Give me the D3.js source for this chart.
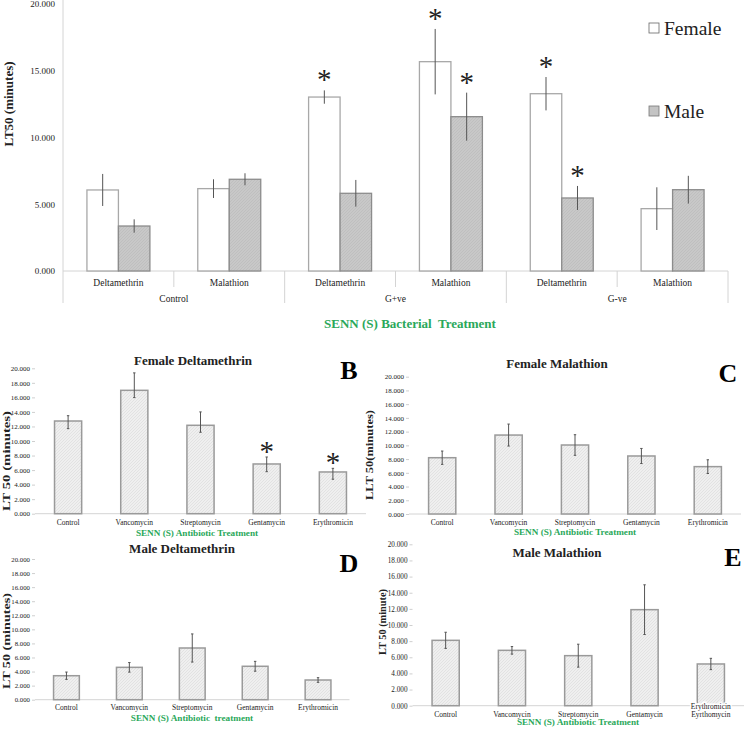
<!DOCTYPE html>
<html><head><meta charset="utf-8">
<script src="https://cdn.jsdelivr.net/npm/d3@7/dist/d3.min.js"></script>
<style>
body{margin:0;background:#fff}
svg{display:block}
text{font-family:"Liberation Serif","Times New Roman",serif;fill:#222}
</style>
</head><body>
<svg id="chart" width="745" height="729"></svg>
<script>
// ---------- DATA ----------
const mainGroups = ["Control", "G+ve", "G-ve"];
const mainInsecticides = ["Deltamethrin", "Malathion"];
const sexes = ["Female", "Male"];
const femaleMain    = [6.07, 6.17, 13.03, 15.68, 13.28, 4.67];
const femaleMainErr = [1.20, 0.70, 0.50, 2.45, 1.25, 1.60];
const maleMain      = [3.37, 6.87, 5.82, 11.56, 5.47, 6.09];
const maleMainErr   = [0.50, 0.45, 1.00, 1.80, 0.90, 1.04];
const femaleMainSig = [0, 0, 1, 1, 1, 0];
const maleMainSig   = [0, 0, 0, 1, 1, 0];
const mainTicks = [0, 5, 10, 15, 20];

const antibiotics = ["Control", "Vancomycin", "Streptomycin", "Gentamycin", "Erythromicin"];
const antibioticsE = ["Control", "Vancomycin", "Streptomycin", "Gentamycin", "Erythromicin|Eyrthomycin"];
const femDeltVals = [12.75, 16.97, 12.16, 6.84, 5.74];
const femDeltUp   = [0.73, 2.40, 1.84, 0.96, 0.50];
const femDeltDn   = [1.05, 1.00, 0.96, 1.06, 1.00];
const femDeltSig  = [0, 0, 0, 1, 1];
const femMalVals  = [8.20, 11.50, 10.05, 8.45, 6.90];
const femMalErr   = [0.97, 1.60, 1.50, 1.10, 1.00];
const maleDeltVals = [3.41, 4.60, 7.35, 4.75, 2.80];
const maleDeltErr  = [0.52, 0.68, 2.00, 0.70, 0.33];
const maleMalVals  = [8.10, 6.86, 6.20, 11.90, 5.17];
const maleMalErr   = [1.00, 0.47, 1.42, 3.08, 0.70];
const panelTicks = [0, 2, 4, 6, 8, 10, 12, 14, 16, 18, 20];

// ---------- SETUP ----------
const svg = d3.select("#chart");
const fmt = d3.format(".3f");
const green = "#2aa85a";
const axisGray = "#d4d4d4";

const defs = svg.append("defs");
const p1 = defs.append("pattern").attr("id","hatchLight").attr("patternUnits","userSpaceOnUse")
  .attr("width",3).attr("height",3);
p1.append("rect").attr("width",3).attr("height",3).attr("fill","#efefef");
p1.append("path").attr("d","M0,3 L3,0").attr("stroke","#dcdcdc").attr("stroke-width",0.7);
const p2 = defs.append("pattern").attr("id","hatchDark").attr("patternUnits","userSpaceOnUse")
  .attr("width",3).attr("height",3);
p2.append("rect").attr("width",3).attr("height",3).attr("fill","#c8c8c8");
p2.append("path").attr("d","M0,3 L3,0").attr("stroke","#bcbcbc").attr("stroke-width",0.7);

// ---------- MAIN PANEL (A) ----------
(function(){
  const L = 63, R = 728, T = 4, B = 271;
  const cats = [];
  mainGroups.forEach(g => mainInsecticides.forEach(ins => cats.push(g + "|" + ins)));
  const x0 = d3.scaleBand().domain(cats).range([L, R]).paddingInner(0).paddingOuter(0);
  const x1 = d3.scaleBand().domain(sexes).range([0, x0.step()]).paddingInner(0).paddingOuter(0.76);
  const y = d3.scaleLinear().domain([0, 20]).range([B, T]);
  const g = svg.append("g");

  // y axis
  const ya = g.append("g").attr("transform", `translate(${L},0)`)
    .call(d3.axisLeft(y).tickValues(mainTicks).tickFormat(fmt).tickSize(0).tickPadding(8));
  ya.select(".domain").remove();
  ya.selectAll("text").style("font-family","'Liberation Serif',serif").style("font-size","9px").attr("fill","#333");
  g.append("line").attr("x1",L).attr("x2",L).attr("y1",0).attr("y2",303).attr("stroke",axisGray);
  g.append("line").attr("x1",L).attr("x2",R).attr("y1",B).attr("y2",B).attr("stroke",axisGray);

  // category separators and labels
  cats.forEach((c, i) => {
    const xs = x0(c);
    if (i > 0) {
      const isGroupEdge = i % 2 === 0;
      g.append("line").attr("x1",xs).attr("x2",xs).attr("y1",B).attr("y2", isGroupEdge ? 303 : 287)
        .attr("stroke",axisGray);
    }
    g.append("text").attr("x", xs + x0.bandwidth()/2).attr("y", 285.5).attr("text-anchor","middle")
      .style("font-size","9.5px").text(c.split("|")[1]);
  });
  g.append("line").attr("x1",R).attr("x2",R).attr("y1",B).attr("y2",303).attr("stroke",axisGray);
  mainGroups.forEach(gr => {
    const a = x0(gr + "|" + mainInsecticides[0]);
    const b = x0(gr + "|" + mainInsecticides[1]) + x0.bandwidth();
    g.append("text").attr("x",(a+b)/2).attr("y",301.5).attr("text-anchor","middle")
      .style("font-size","9.5px").text(gr);
  });

  // bars
  const series = [
    {sex:"Female", vals:femaleMain, err:femaleMainErr, sig:femaleMainSig, fill:"#ffffff", stroke:"#a8a8a8"},
    {sex:"Male", vals:maleMain, err:maleMainErr, sig:maleMainSig, fill:"url(#hatchDark)", stroke:"#8c8c8c"}
  ];
  series.forEach(s => {
    cats.forEach((c, i) => {
      const bx = x0(c) + x1(s.sex), bw = x1.bandwidth();
      const v = s.vals[i];
      g.append("rect").attr("x",bx).attr("y",y(v)).attr("width",bw).attr("height",y(0)-y(v))
        .attr("fill",s.fill).attr("stroke",s.stroke).attr("stroke-width",1.3);
      const cx = bx + bw/2;
      g.append("line").attr("x1",cx).attr("x2",cx).attr("y1",y(v + s.err[i])).attr("y2",y(v - s.err[i]))
        .attr("stroke","#555").attr("stroke-width",1);
      if (s.sig[i]) {
        g.append("text").attr("x",cx).attr("y",y(v + s.err[i]) - 15 + 14).attr("text-anchor","middle")
          .style("font-size","29px").text("*");
      }
    });
  });

  // y label
  g.append("text").attr("transform","translate(13,104) rotate(-90)").attr("text-anchor","middle")
    .style("font-size","13px").style("font-weight","bold").text("LT50 (minutes)");
  // x title
  g.append("text").attr("x",410).attr("y",327.5).attr("text-anchor","middle")
    .style("font-size","13px").style("font-weight","bold").style("fill",green)
    .attr("xml:space","preserve").text("SENN (S) Bacterial  Treatment");

  // legend
  const lg = [{sex:"Female", y:28, fill:"#fff", stroke:"#666"}, {sex:"Male", y:111, fill:"#c4c4c4", stroke:"#777"}];
  lg.forEach(d => {
    g.append("rect").attr("x",649).attr("y",d.y-5).attr("width",10).attr("height",10)
      .attr("fill",d.fill).attr("stroke",d.stroke).attr("stroke-width",0.8);
    g.append("text").attr("x",664).attr("y",d.y+6.5).style("font-size","19.5px").text(d.sex);
  });
})();

// ---------- LOWER PANELS ----------
const panels = [
  {letter:"B", title:"Female Deltamethrin", cats:antibiotics, vals:femDeltVals, up:femDeltUp, dn:femDeltDn, sig:femDeltSig,
   yT:368.3, yB:513.7, xL:35, xR:366, titleX:193, titleY:365, letX:349, letY:379, tickFont:7,
   ylab:"LT 50 (minutes)", ylabX:10, ylabY:461, ylabLen:100, ylabFont:10.5, catY:524.5,
   xt:"SENN (S) Antibiotic Treatment", xtX:197, xtY:535.7},
  {letter:"C", title:"Female Malathion", cats:antibiotics, vals:femMalVals, up:femMalErr, dn:femMalErr, sig:[0,0,0,0,0],
   yT:376.7, yB:514, xL:409, xR:741, titleX:557, titleY:368, letX:728, letY:382, tickFont:7,
   ylab:"LLT 50(minutes)", ylabX:373, ylabY:455, ylabLen:90, ylabFont:10.5, catY:525,
   xt:"SENN (S) Antibiotic Treatment", xtX:575, xtY:535.3},
  {letter:"D", title:"Male Deltamethrin", cats:antibiotics, vals:maleDeltVals, up:maleDeltErr, dn:maleDeltErr, sig:[0,0,0,0,0],
   yT:559, yB:699.7, xL:35, xR:349.5, titleX:182, titleY:553, letX:349, letY:572, tickFont:6.8,
   ylab:"LT 50 (minutes)", ylabX:10, ylabY:641, ylabLen:96, ylabFont:10.5, catY:710,
   xt:"SENN (S) Antibiotic  treatment", xtX:192, xtY:720.7},
  {letter:"E", title:"Male Malathion", cats:antibioticsE, vals:maleMalVals, up:maleMalErr, dn:maleMalErr, sig:[0,0,0,0,0],
   yT:544.3, yB:705.7, xL:412.5, xR:744, titleX:557, titleY:557, letX:733, letY:566, tickFont:7.2,
   ylab:"LT 50 (minute)", ylabX:386, ylabY:622, ylabLen:66, ylabFont:10, catY:716.5,
   xt:"SENN (S) Antibiotic Treatment", xtX:578, xtY:725.3}
];

panels.forEach(p => {
  const g = svg.append("g");
  const x = d3.scaleBand().domain(p.cats).range([p.xL, p.xR]).paddingInner(0.59).paddingOuter(0.295);
  const y = d3.scaleLinear().domain([0, 20]).range([p.yB, p.yT]);

  const ya = g.append("g").attr("transform",`translate(${p.xL},0)`)
    .call(d3.axisLeft(y).tickValues(panelTicks).tickFormat(fmt).tickSize(3).tickPadding(2));
  ya.select(".domain").remove();
  ya.selectAll(".tick line").attr("stroke", "#cfcfcf");
  ya.selectAll("text").style("font-family","'Liberation Serif',serif").style("font-size",p.tickFont+"px").attr("fill","#333");

  g.append("line").attr("x1",p.xL).attr("x2",p.xR).attr("y1",p.yB).attr("y2",p.yB).attr("stroke",axisGray);

  p.cats.forEach((c, i) => {
    const bx = x(c), bw = x.bandwidth(), v = p.vals[i];
    g.append("rect").attr("x",bx).attr("y",y(v)).attr("width",bw).attr("height",y(0)-y(v))
      .attr("fill","url(#hatchLight)").attr("stroke","#9a9a9a").attr("stroke-width",1.5);
    const cx = bx + bw/2;
    const top = y(v + p.up[i]), bot = y(v - p.dn[i]);
    g.append("line").attr("x1",cx).attr("x2",cx).attr("y1",top).attr("y2",bot).attr("stroke","#555").attr("stroke-width",1);
    g.append("line").attr("x1",cx-1.2).attr("x2",cx+1.2).attr("y1",top).attr("y2",top).attr("stroke","#555");
    g.append("line").attr("x1",cx-1.2).attr("x2",cx+1.2).attr("y1",bot).attr("y2",bot).attr("stroke","#555");
    if (p.sig[i]) {
      g.append("text").attr("x",cx).attr("y",top - 10 + 14).attr("text-anchor","middle")
        .style("font-size","29px").text("*");
    }
    const parts = c.split("|");
    if (parts.length === 1) {
      g.append("text").attr("x",cx).attr("y",p.catY).attr("text-anchor","middle").style("font-size","7.5px").text(c);
    } else {
      g.append("text").attr("x",cx).attr("y",p.yB + 2.8).attr("text-anchor","middle").style("font-size","7.5px")
        .attr("stroke","#fff").attr("stroke-width",3).attr("paint-order","stroke").text(parts[0]);
      g.append("text").attr("x",cx).attr("y",p.catY).attr("text-anchor","middle").style("font-size","7.5px").text(parts[1]);
    }
  });

  g.append("text").attr("x",p.titleX).attr("y",p.titleY).attr("text-anchor","middle")
    .style("font-size","13px").style("font-weight","bold").text(p.title);
  g.append("text").attr("x",p.letX).attr("y",p.letY).attr("text-anchor","middle")
    .style("font-size","26px").style("font-weight","bold").style("fill","#000").text(p.letter);
  g.append("text").attr("transform",`translate(${p.ylabX},${p.ylabY}) rotate(-90)`).attr("text-anchor","middle")
    .style("font-size",p.ylabFont+"px").style("font-weight","bold")
    .attr("textLength",p.ylabLen).attr("lengthAdjust","spacingAndGlyphs").text(p.ylab);
  g.append("text").attr("x",p.xtX).attr("y",p.xtY).attr("text-anchor","middle")
    .style("font-size","9.2px").style("font-weight","bold").style("fill",green)
    .attr("xml:space","preserve").text(p.xt);
});
</script>
</body></html>
